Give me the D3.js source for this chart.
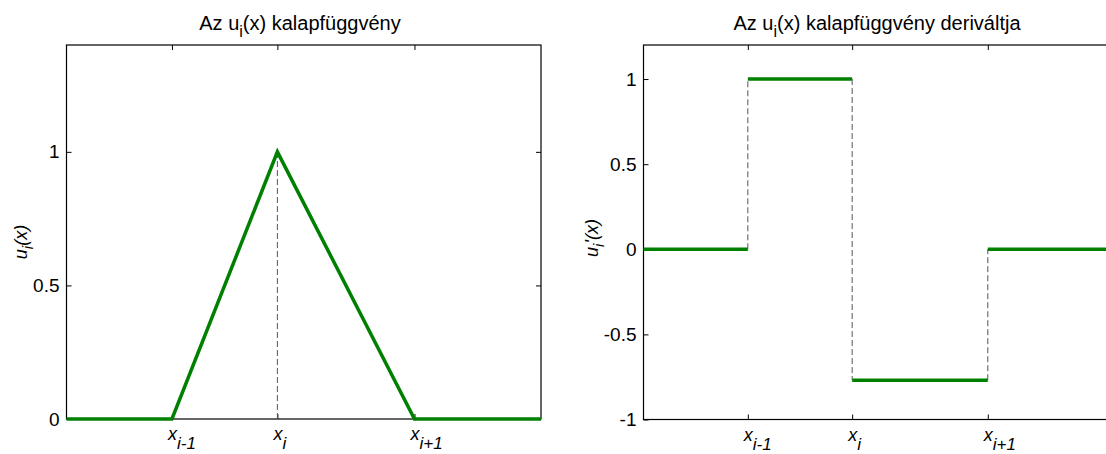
<!DOCTYPE html>
<html lang="en">
<head>
<meta charset="utf-8">
<script src="https://d3js.org/d3.v7.min.js"></script>
<style type="text/css">
	body { margin:0; background:#fff; }
	svg { display:block; font-family:"Liberation Sans", Arial, sans-serif; }
</style>
</head>
<body>
<script type="text/javascript">
	// node positions and labels (shared by both panels)
	var nodeX = [1, 2, 3.3];
	var nodeSub = ["i-1", "i", "i+1"];
	var xDomain = [0, 4.5];

	// hat function u_i(x)
	var hatX = [0, 1, 2, 3.3, 4.5];
	var hatY = [0, 0, 1, 0, 0];
	var hatTicks = [0, 0.5, 1];

	// derivative u_i'(x), piecewise constant
	var derivStart = [0, 1, 2, 3.3];
	var derivEnd = [1, 2, 3.3, 4.5];
	var derivVal = [0, 1, -0.769, 0];
	var derivTicks = [-1, -0.5, 0, 0.5, 1];

	var svg = d3.select('body').append('svg')
		.attr('width', 1106)
		.attr('height', 454);

	var green = "#008000";
	var fs = 19;   // ticks
	var ft = 20;   // titles
	var fl = 18;   // axis labels

	function panel(left, right, top, bottom, yDom, yTicks) {
		var g = svg.append('g');
		var x = d3.scaleLinear().domain(xDomain).range([left, right]);
		var y = d3.scaleLinear().domain(yDom).range([bottom, top]);

		// y ticks, inward on both sides
		g.append('g').attr('transform', 'translate(' + left + ',0)')
			.call(d3.axisLeft(y).tickValues(yTicks).tickSize(-5).tickSizeOuter(0).tickPadding(7)
				.tickFormat(function(d) { return String(d); }))
			.call(function(a) {
				a.select('.domain').remove();
				a.selectAll('text').style('font-size', fs + 'px').attr('fill', '#000')
					.style('font-family', '"Liberation Sans", Arial, sans-serif');
			});
		g.append('g').attr('transform', 'translate(' + right + ',0)')
			.call(d3.axisRight(y).tickValues(yTicks).tickSize(-5).tickFormat(''))
			.call(function(a) { a.select('.domain').remove(); });

		// x ticks, inward top and bottom
		g.append('g').attr('transform', 'translate(0,' + bottom + ')')
			.call(d3.axisBottom(x).tickValues(nodeX).tickSize(-5).tickFormat(''))
			.call(function(a) { a.select('.domain').remove(); });
		g.append('g').attr('transform', 'translate(0,' + top + ')')
			.call(d3.axisTop(x).tickValues(nodeX).tickSize(-5).tickFormat(''))
			.call(function(a) { a.select('.domain').remove(); });

		// x tick labels: italic x with subscript
		var lab = g.selectAll('text.xl').data(nodeX).enter().append('text')
			.attr('class', 'xl')
			.attr('x', function(d) { return x(d) - 4; })
			.attr('y', bottom + 21)
			.style('font-size', fl + 'px')
			.style('font-style', 'italic');
		lab.append('tspan').text('x');
		lab.append('tspan').attr('dy', 9).style('font-size', (fl - 1) + 'px')
			.text(function(d, i) { return nodeSub[i]; });

		// frame
		g.append('rect').attr('x', left).attr('y', top)
			.attr('width', right - left).attr('height', bottom - top)
			.attr('fill', 'none').attr('stroke', '#000').attr('stroke-width', 1.2);

		return {g: g, x: x, y: y};
	}

	// ---- left panel: hat function
	var p1 = panel(66.5, 541, 45, 419, [0, 1.4], hatTicks);
	p1.g.append('line')
		.attr('x1', p1.x(nodeX[1])).attr('x2', p1.x(nodeX[1]))
		.attr('y1', p1.y(0)).attr('y2', p1.y(1))
		.attr('stroke', '#555').attr('stroke-dasharray', '6,3').attr('stroke-width', 1);
	p1.g.append('path')
		.datum(d3.zip(hatX, hatY))
		.attr('d', d3.line().x(function(d) { return p1.x(d[0]); }).y(function(d) { return p1.y(d[1]); }))
		.attr('fill', 'none').attr('stroke', green).attr('stroke-width', 3.5);

	// ---- right panel: derivative
	var p2 = panel(643.5, 1113, 45, 419.5, [-1, 1.2], derivTicks);
	// dashed jumps
	for (var k = 0; k < nodeX.length; k++) {
		p2.g.append('line')
			.attr('x1', p2.x(nodeX[k])).attr('x2', p2.x(nodeX[k]))
			.attr('y1', p2.y(derivVal[k])).attr('y2', p2.y(derivVal[k + 1]))
			.attr('stroke', '#555').attr('stroke-dasharray', '6,3').attr('stroke-width', 1);
	}
	p2.g.selectAll('line.seg').data(derivVal).enter().append('line')
		.attr('class', 'seg')
		.attr('x1', function(d, i) { return p2.x(derivStart[i]); })
		.attr('x2', function(d, i) { return p2.x(derivEnd[i]); })
		.attr('y1', function(d) { return p2.y(d); })
		.attr('y2', function(d) { return p2.y(d); })
		.attr('stroke', green).attr('stroke-width', 3.5);

	// titles
	function title(cx, extra) {
		var t = svg.append('text').attr('x', cx).attr('y', 30)
			.attr('text-anchor', 'middle').style('font-size', ft + 'px');
		t.append('tspan').text('Az u');
		t.append('tspan').attr('dy', 7).style('font-size', (ft - 4) + 'px').text('i');
		t.append('tspan').attr('dy', -7).text('(x) kalapfüggvény' + extra);
	}
	title(300, '');
	title(877, ' deriváltja');

	// y labels
	function ylab(cx, cy, prime) {
		var t = svg.append('text')
			.attr('transform', 'translate(' + cx + ',' + cy + ') rotate(-90)')
			.attr('text-anchor', 'middle')
			.style('font-size', fl + 'px').style('font-style', 'italic');
		t.append('tspan').text('u');
		t.append('tspan').attr('dy', 6).style('font-size', (fl - 3) + 'px').text('i');
		t.append('tspan').attr('dy', -6).text(prime + '(x)');
	}
	ylab(27, 242, '');
	ylab(598, 238, "'");
</script>
</body>
</html>
